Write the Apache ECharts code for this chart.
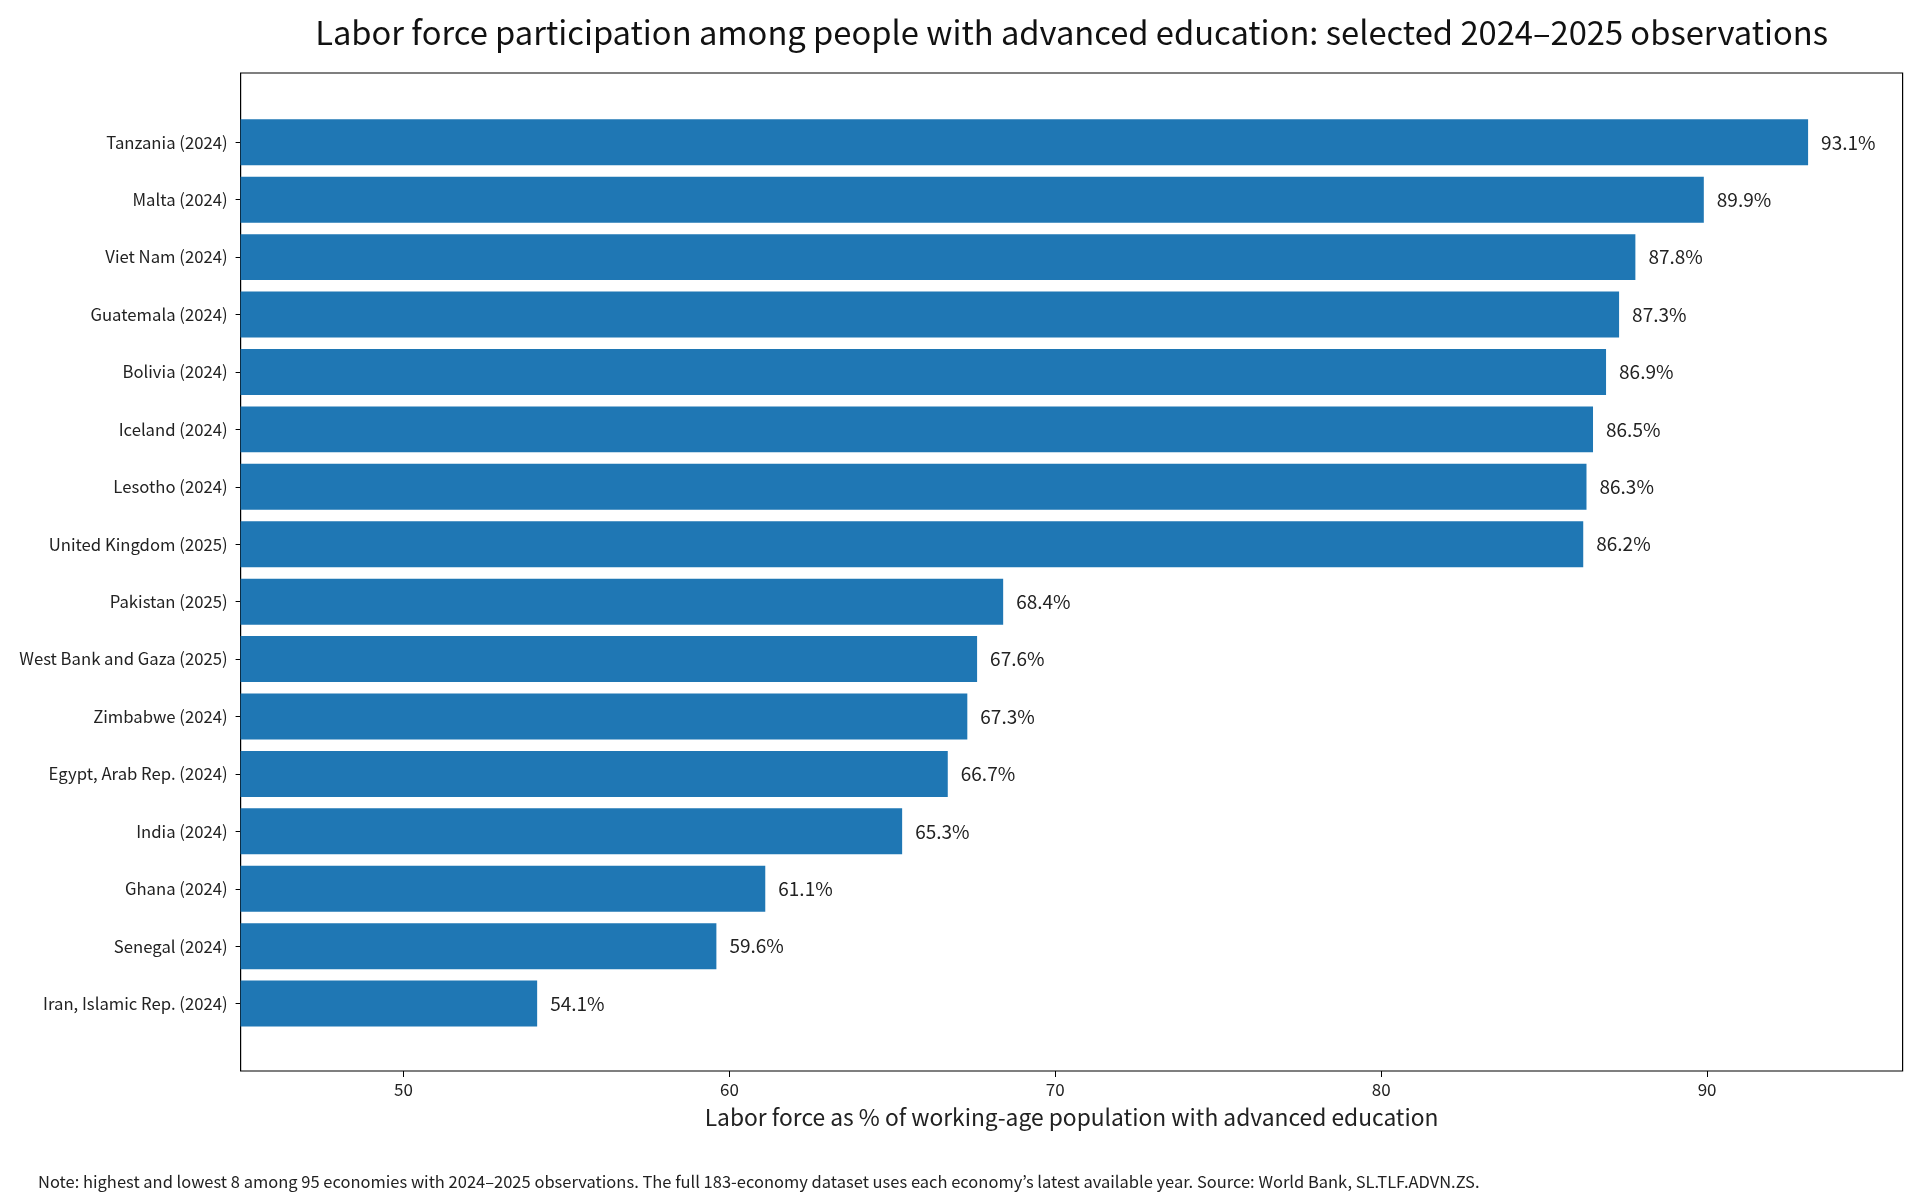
<!DOCTYPE html>
<html>
<head>
<meta charset="utf-8">
<script src="https://cdn.jsdelivr.net/npm/echarts@6/dist/echarts.min.js"></script>
<style>
html,body{margin:0;padding:0;background:#fff;}
#chart{width:1920px;height:1200px;}
</style>
</head>
<body>
<div id="chart"></div>
<script>
const categories = [
  "Tanzania (2024)", "Malta (2024)", "Viet Nam (2024)", "Guatemala (2024)",
  "Bolivia (2024)", "Iceland (2024)", "Lesotho (2024)", "United Kingdom (2025)",
  "Pakistan (2025)", "West Bank and Gaza (2025)", "Zimbabwe (2024)", "Egypt, Arab Rep. (2024)",
  "India (2024)", "Ghana (2024)", "Senegal (2024)", "Iran, Islamic Rep. (2024)"
];
const values = [93.1, 89.9, 87.8, 87.3, 86.9, 86.5, 86.3, 86.2, 68.4, 67.6, 67.3, 66.7, 65.3, 61.1, 59.6, 54.1];
const xTicks = [50, 60, 70, 80, 90];
const xMin = 45, xMax = 96;

const titleText = "Labor force participation among people with advanced education: selected 2024\u20132025 observations";
const xName = "Labor force as % of working-age population with advanced education";
const noteText = "Note: highest and lowest 8 among 95 economies with 2024\u20132025 observations. The full 183-economy dataset uses each economy\u2019s latest available year. Source: World Bank, SL.TLF.ADVN.ZS.";

const FONT = '"Noto Sans CJK KR", "Noto Sans", sans-serif';
const L = 240.6, W = 1662, FT = 73, FH = 998, BT = 113.6, BH = 918.7;

const chart = echarts.init(document.getElementById('chart'), null, {renderer: 'canvas'});
chart.setOption({
  backgroundColor: '#fff',
  textStyle: {fontFamily: FONT},
  animation: false,
  grid: [
    {left: L, width: W, top: BT, height: BH, containLabel: false},
    {left: L, width: W, top: FT, height: FH, show: true, borderColor: '#000', borderWidth: 1.2, backgroundColor: 'transparent', containLabel: false}
  ],
  xAxis: [
    {type: 'value', gridIndex: 0, min: xMin, max: xMax, show: false},
    {type: 'value', gridIndex: 1, min: xMin, max: xMax, position: 'bottom',
     axisLine: {show: false},
     axisTick: {show: true, length: 6, lineStyle: {color: '#000', width: 1}, customValues: xTicks},
     axisLabel: {show: true, margin: 10, fontSize: 17, color: '#222', fontFamily: FONT, customValues: xTicks},
     splitLine: {show: false},
     name: xName, nameLocation: 'middle', nameGap: 35,
     nameTextStyle: {fontSize: 22.8, color: '#222', fontFamily: FONT}
    }
  ],
  yAxis: [
    {type: 'category', gridIndex: 0, data: categories, inverse: true,
     axisLine: {show: false},
     axisTick: {show: true, alignWithLabel: true, length: 5, lineStyle: {color: '#000', width: 1}},
     axisLabel: {margin: 13, fontSize: 16.7, color: '#222', fontFamily: FONT},
     splitLine: {show: false}
    },
    {type: 'value', gridIndex: 1, min: 0, max: 1, show: false}
  ],
  series: [{
    type: 'bar',
    xAxisIndex: 0, yAxisIndex: 0,
    data: values,
    barWidth: '80%',
    itemStyle: {color: '#1f77b4'},
    label: {show: true, position: 'right', distance: 13, fontSize: 19, color: '#222', fontFamily: FONT,
            formatter: p => p.value.toFixed(1) + '%'}
  }],
  graphic: [
    {type: 'text', x: L + W / 2, y: 33, style: {text: titleText, fontSize: 32.7, fill: '#111', fontFamily: FONT, textAlign: 'center', textVerticalAlign: 'middle'}},
    {type: 'text', x: 38, y: 1182, style: {text: noteText, fontSize: 16.5, fill: '#222', fontFamily: FONT, textAlign: 'left', textVerticalAlign: 'middle'}}
  ]
});
</script>
</body>
</html>
